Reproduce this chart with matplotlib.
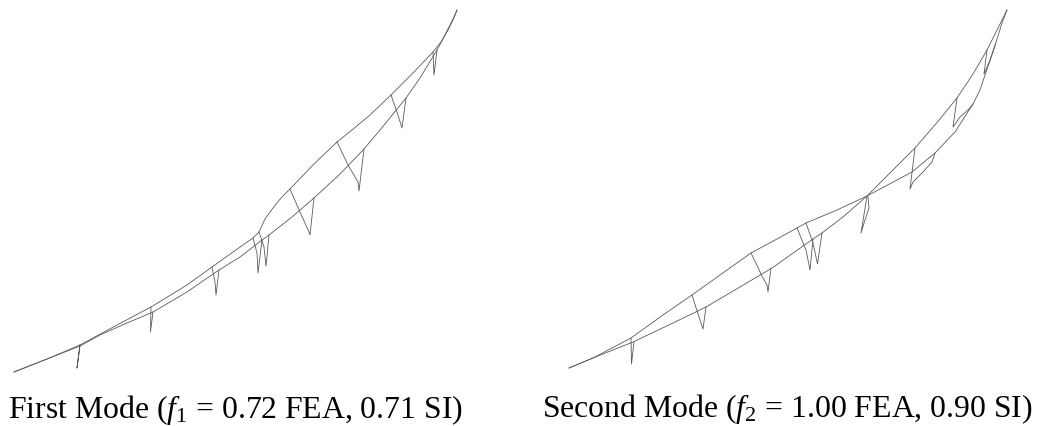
import matplotlib
matplotlib.use("Agg")
import matplotlib.pyplot as plt

plt.rcParams['mathtext.fontset'] = 'custom'
plt.rcParams['mathtext.rm'] = 'Liberation Serif'
plt.rcParams['mathtext.it'] = 'Liberation Serif:italic'
plt.rcParams['mathtext.bf'] = 'Liberation Serif:bold'

# First mode: the two chords
m1_upper_x = [14, 47, 80, 117, 151, 187, 212, 233, 253, 259, 265, 273, 281, 290, 313, 337, 352, 370, 391, 413, 433, 441, 448, 453, 457]
m1_upper_y = [372, 359, 345, 325, 307, 285, 267, 252, 238, 232, 219, 208, 198, 189, 165, 142, 130, 115, 95, 73, 52, 42, 30, 20, 10]
m1_lower_x = [14, 47, 80, 100, 127, 153, 187, 219, 240, 262, 269, 292, 314, 340, 364, 380, 406, 420, 437, 444, 450, 454, 457]
m1_lower_y = [372, 359, 346, 335, 323, 312, 292, 270, 257, 240, 235, 217, 198, 174, 149, 130, 98, 78, 50, 37, 25, 17, 10]

# First mode: hangers, each drawn from the upper to the lower chord through its tip
m1_hangers = [
    ([80, 77, 80], [345, 368, 345]),
    ([151, 150.5, 153], [307, 332, 312]),
    ([212, 215, 216, 219], [267, 282, 295, 270]),
    ([253, 257, 258, 262], [238, 253, 273, 240]),
    ([259, 264, 266, 269], [232, 247, 266, 235]),
    ([290, 300, 305, 309, 310, 314], [189, 212, 223, 232, 235, 198]),
    ([337, 348, 358, 359, 364], [142, 165, 182, 191, 149]),
    ([391, 397, 402, 406], [95, 112, 128, 98]),
    ([433, 434, 437], [52, 75, 50]),
]

# Second mode: the two chords, which cross near mid-span
m2_a_x = [569, 593, 631, 663, 692, 720, 751, 777, 797, 806, 837, 867, 912, 935, 955, 973, 980, 985, 993, 1002, 1007]
m2_a_y = [368, 358, 338, 315, 295, 275, 253, 239, 228, 223, 210, 196, 172, 153, 132, 104, 90, 75, 52, 23, 10]
m2_b_x = [569, 593, 633, 673, 706, 740, 772, 813, 822, 843, 867, 915, 940, 957, 973, 987, 998, 1007]
m2_b_y = [368, 358, 342, 323, 307, 287, 268, 239, 233, 217, 196, 148, 119, 98, 74, 50, 28, 10]

# Second mode: hangers
m2_hangers = [
    ([631, 631.5, 634], [338, 364, 342]),
    ([692, 698, 703, 706], [295, 314, 329, 307]),
    ([751, 762, 767, 768, 771], [253, 276, 285, 292, 268]),
    ([797, 806, 810, 813], [228, 250, 270, 239]),
    ([806, 813, 817.5, 822], [223, 243, 264, 233]),
    ([867, 861, 865, 869, 868], [196, 233, 220, 208, 197]),
    ([915, 910, 913, 923, 932, 935], [148, 189, 182, 172, 162, 153]),
    ([957, 953, 960, 968, 973], [98, 127, 117, 110, 104]),
    ([987, 984, 990, 995], [50, 74, 60, 45]),
]

caption_1 = r"First Mode ($f_1$ = 0.72 FEA, 0.71 SI)"
caption_2 = r"Second Mode ($f_2$ = 1.00 FEA, 0.90 SI)"

fig = plt.figure(figsize=(10.37, 4.26), dpi=100)
ax = fig.add_axes([0, 0, 1, 1])
ax.set_xlim(0, 1037)
ax.set_ylim(426, 0)
ax.axis('off')

style = dict(color='#5a5a5a', lw=0.6, solid_joinstyle='round')
ax.plot(m1_upper_x, m1_upper_y, **style)
ax.plot(m1_lower_x, m1_lower_y, **style)
for hx, hy in m1_hangers:
    ax.plot(hx, hy, **style)
ax.plot(m2_a_x, m2_a_y, **style)
ax.plot(m2_b_x, m2_b_y, **style)
for hx, hy in m2_hangers:
    ax.plot(hx, hy, **style)

text_style = dict(family='Liberation Serif', fontsize=22.9, color='black', va='baseline', ha='left')
ax.text(8, 418, caption_1, **text_style)
ax.text(542, 416.5, caption_2, **text_style)

fig.savefig('out.png', dpi=100)
